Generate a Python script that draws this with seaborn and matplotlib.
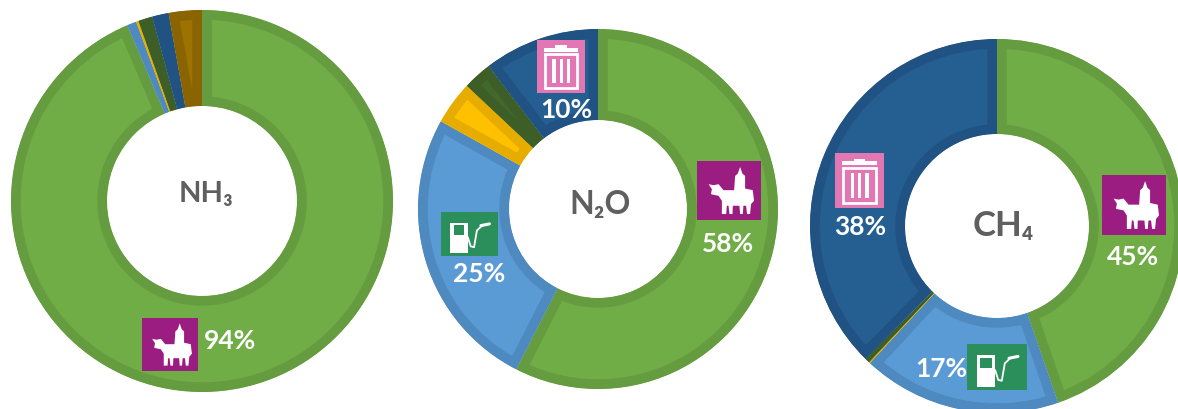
import numpy as np
import matplotlib
matplotlib.use('Agg')
import matplotlib.pyplot as plt
from matplotlib.patches import Rectangle, Polygon
import seaborn as sns

W, H = 1178, 409

# clockwise from 12 o'clock: agriculture, transport, energy, industry, waste, other
nh3_values = [93.6, 0.8, 0.2, 1.2, 1.4, 2.8]
n2o_values = [57.5, 25.6, 3.9, 2.6, 10.4]
ch4_values = [44.7, 17.2, 0.1, 0.4, 37.6]

titles = ['NH₃', 'N₂O', 'CH₄']
title_sizes = [21, 23, 25]
title_xy = [(206, 194), (600, 204), (1003, 226)]
# centre x, centre y, outer radius, inner radius in pixels
donuts = [(202, 201, 191, 95), (598, 209, 180, 89), (997, 226, 187, 92)]

pct_labels = ['94%', '58%', '25%', '10%', '38%', '45%', '17%']
pct_xy = [(230, 341), (728, 244), (479, 274), (566, 110), (860, 227), (1133, 257), (941, 369)]

sns.set_theme(style='white')
plt.rcParams['font.family'] = ['Lato', 'DejaVu Sans']

face = sns.color_palette(['#70ad47', '#5b9bd5', '#ffc000', '#43682b', '#255e91', '#9e7200'])
edge = sns.color_palette(['#659c40', '#4e89bf', '#e6ad00', '#3d5e27', '#205383', '#8a6400'])

fig = plt.figure(figsize=(W / 100, H / 100), dpi=100)


def px_axes(cx, cy, r):
    return fig.add_axes([(cx - r) / W, 1 - (cy + r) / H, 2 * r / W, 2 * r / H])


for values, (cx, cy, ro, ri) in zip([nh3_values, n2o_values, ch4_values], donuts):
    ax = px_axes(cx, cy, ro)
    wedges, _ = ax.pie(values, colors=face, startangle=90, counterclock=False, radius=1,
                       wedgeprops={'width': 1 - ri / ro})
    for w, c in zip(wedges, edge):
        # border drawn inside the wedge only, pie turns clipping off by default
        w.set_edgecolor(c)
        w.set_linewidth(14)
        w.set_clip_on(True)
        w.set_clip_path(w)
    ax.set_xlim(-1, 1)
    ax.set_ylim(-1, 1)

# overlay in pixel coords for the icons and text
ov = fig.add_axes([0, 0, 1, 1], zorder=5)
ov.set_xlim(0, W)
ov.set_ylim(H, 0)
ov.axis('off')

cow_shape = [(55, 100), (70, 103), (85, 100), (100, 118), (132, 118), (135, 75), (143, 68), (150, 48),
             (157, 68), (165, 75), (165, 113), (188, 118), (192, 150), (183, 160), (180, 190), (171, 190),
             (168, 165), (160, 165), (158, 190), (150, 190), (148, 165), (128, 165), (127, 190), (118, 190),
             (115, 165), (110, 165), (108, 190), (95, 190), (95, 150), (85, 135), (70, 132), (62, 130), (65, 115)]


def cow_icon(x0, y0, x1, y1):
    ov.add_patch(Rectangle((x0, y0), x1 - x0, y1 - y0, color='#9c1d82', lw=0))
    pts = [(x0 + (x - 20) / 193 * (x1 - x0), y0 + (y - 30) / 178 * (y1 - y0)) for x, y in cow_shape]
    ov.add_patch(Polygon(pts, color='white', lw=0))


def trash_icon(x0, y0, x1, y1):
    w, h = x1 - x0, y1 - y0
    ov.add_patch(Rectangle((x0, y0), w, h, color='#e277b3', lw=0))
    ov.add_patch(Rectangle((x0 + .17 * w, y0 + .27 * h), .66 * w, .64 * h, fc='none', ec='white', lw=2))
    ov.add_patch(Rectangle((x0 + .15 * w, y0 + .15 * h), .7 * w, .07 * h, color='white', lw=0))
    ov.add_patch(Rectangle((x0 + .38 * w, y0 + .10 * h), .24 * w, .06 * h, color='white', lw=0))
    for u in [.32, .47, .62]:
        ov.add_patch(Rectangle((x0 + u * w, y0 + .36 * h), .07 * w, .46 * h, color='white', lw=0))


def pump_icon(x0, y0, x1, y1):
    w, h = x1 - x0, y1 - y0
    ov.add_patch(Rectangle((x0, y0), w, h, color='#2a8f5b', lw=0))
    ov.add_patch(Rectangle((x0 + .16 * w, y0 + .24 * h), .31 * w, .69 * h, color='white', lw=0))
    ov.add_patch(Rectangle((x0 + .22 * w, y0 + .30 * h), .19 * w, .22 * h, color='#2a8f5b', lw=0))
    ov.plot([x0 + .47 * w, x0 + .52 * w, x0 + .58 * w, x0 + .63 * w, x0 + .72 * w],
            [y0 + .57 * h, y0 + .78 * h, y0 + .80 * h, y0 + .42 * h, y0 + .31 * h],
            color='white', lw=1.3, solid_capstyle='round')
    ov.plot([x0 + .70 * w, x0 + .85 * w], [y0 + .31 * h, y0 + .27 * h],
            color='white', lw=2.2, solid_capstyle='round')


cow_icon(142, 318, 198, 371)
cow_icon(697, 161, 761, 220)
cow_icon(1102, 175, 1166, 235)
trash_icon(537, 40, 585, 93)
trash_icon(835, 153, 884, 208)
pump_icon(441, 212, 498, 256)
pump_icon(967, 344, 1027, 390)

for lab, (x, y), size in zip(titles, title_xy, title_sizes):
    ov.text(x, y, lab, ha='center', va='center', fontsize=size, fontweight='bold', color='#5f5f5f')

for lab, (x, y) in zip(pct_labels, pct_xy):
    ov.text(x, y, lab, ha='center', va='center', color='white', fontsize=19, fontweight='bold')

fig.savefig('out.png', dpi=100)
